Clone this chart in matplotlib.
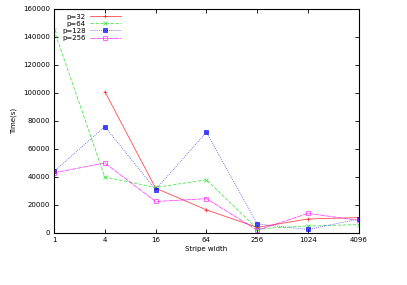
import matplotlib
matplotlib.use("Agg")
import matplotlib.pyplot as plt

stripe = [1, 4, 16, 64, 256, 1024, 4096]
tick_labels = ["1", "4", "16", "64", "256", "1024", "4096"]

p32 = [None, 101000, 32000, 16500, 4000, 10000, 11000]
p64 = [145000, 40000, 32500, 38000, 3000, 5000, 6000]
p128 = [44000, 76000, 31000, 72000, 6500, 2500, 10000]
p256 = [43000, 50000, 22500, 24500, 2000, 14000, 9000]

# label, values, colour, linestyle, marker, marker size, marker face
series = [
    ("p=32", p32, "#ff0000", "-", "+", 3.5, "#ff0000"),
    ("p=64", p64, "#00dd00", (0, (4, 2)), "x", 3, "#00dd00"),
    ("p=128", p128, "#0000ff", (0, (1, 1.5)), "s", 2.2, "#0000ff"),
    ("p=256", p256, "#ff00ff", (0, (6, 1)), "s", 3.2, "none"),
]

fig = plt.figure(figsize=(4.07, 2.85), dpi=100)
ax = fig.add_axes([0.1327, 0.1825, 0.749, 0.786])

for label, vals, color, ls, mk, ms, mfc in series:
    xs = [x for x, v in zip(stripe, vals) if v is not None]
    ys = [v for v in vals if v is not None]
    ax.plot(xs, ys, color=color, linestyle=ls, linewidth=0.6, alpha=0.7,
            marker=mk, markersize=ms,
            markerfacecolor=mfc, markeredgecolor=color, markeredgewidth=0.6,
            label=label)

ax.set_xscale("log", base=2)
ax.set_xlim(1, 4096)
ax.set_ylim(0, 160000)
ax.set_xticks(stripe)
ax.set_xticklabels(tick_labels)
ax.minorticks_off()
ax.set_yticks(range(0, 160001, 20000))
ax.tick_params(direction="in", length=3, width=0.6, labelsize=5,
               top=True, right=True, pad=3)
for s in ax.spines.values():
    s.set_linewidth(0.8)

ax.set_xlabel("Stripe width", fontsize=5, labelpad=2)
ax.set_ylabel("Time(s)", fontsize=5, labelpad=4)

leg = ax.legend(loc="upper left", fontsize=5, frameon=False, markerfirst=False,
                handlelength=4.5, handletextpad=0.6, labelspacing=0.15,
                borderaxespad=0.3, bbox_to_anchor=(0.01, 1.0))

fig.savefig("out.png", dpi=100)
